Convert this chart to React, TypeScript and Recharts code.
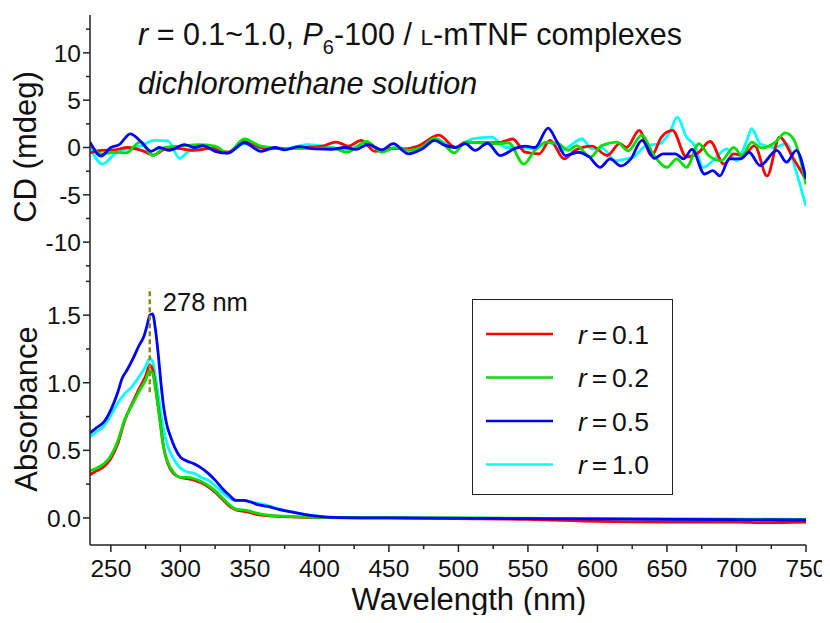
import React from "react";
import { Legend, Line, LineChart, ReferenceLine, XAxis, YAxis } from "recharts";

type Pt = [number, number];

const FONT = '"Liberation Sans", Arial, Helvetica, sans-serif';
const AXIS = "#222";
const INK = "#111";

// axes
const waveDomain: [number, number] = [235, 750];
const waveTicks = [250, 275, 300, 325, 350, 375, 400, 425, 450, 475, 500, 525, 550, 575, 600, 625, 650, 675, 700, 725, 750];
const waveMajor = [250, 300, 350, 400, 450, 500, 550, 600, 650, 700, 750];
const cdDomain: [number, number] = [-14, 14];
const cdTicks = [-12.5, -10, -7.5, -5, -2.5, 0, 2.5, 5, 7.5, 10, 12.5];
const cdMajor = [-10, -5, 0, 5, 10];
const absDomain: [number, number] = [-0.2, 1.76];
const absTicks = [0, 0.25, 0.5, 0.75, 1, 1.25, 1.5, 1.75];
const absMajor = [0, 0.5, 1, 1.5];

// series
const ratios = ["0.1", "0.2", "0.5", "1.0"];
const colors = ["#ff0000", "#00e000", "#0000ff", "#00ffff"];
const drawOrder = [3, 0, 1, 2];
const peakNm = 278;

// CD (mdeg) vs wavelength
const cdR01: Pt[] = [
  [235, -0.57], [243, -0.3], [253, -0.25], [262, 0], [272, -0.3], [281, -0.8], [291, 0], [301, -0.15],
  [310, -0.3], [322, -0.1], [334, -0.5], [346, 0.65], [358, 0], [366, -0.1], [375, -0.1], [390, 0],
  [402, 0.15], [412, 0.57], [421, 0.15], [430, 0.75], [440, -0.4], [452, -0.1], [462, -0.15], [471, 0.15],
  [486, 1.3], [498, 0], [505, 0.57], [517, 0.5], [529, 0.5], [539, 0.9], [548, -0.5], [558, -0.67],
  [566, 0.75], [576, -1.2], [584, -0.3], [596, 0.15], [607, -0.85], [616, 0.4], [621, 0], [630, 1.8],
  [639, -0.85], [646, 1.1], [654, 1.8], [664, -1.0], [673, -0.5], [681, 0.65], [691, -1.75], [698, -0.67],
  [705, -0.85], [713, 0.2], [722, -3.0], [731, 1.1], [741, -1.2], [750, -3.4],
];
const cdR02: Pt[] = [
  [235, 0.4], [243, -0.67], [253, -0.5], [261, -0.57], [271, 0.57], [280, -0.85], [289, 0], [301, 0.15],
  [313, 0.3], [325, 0.15], [334, -0.6], [346, 0.9], [358, 0.15], [375, -0.1], [390, -0.1], [409, -0.05],
  [420, -0.5], [434, 0.65], [445, -0.5], [454, -0.05], [464, -0.3], [474, 0.05], [483, 1.0], [488, 0.57],
  [497, -0.57], [505, 0.57], [517, 0.5], [529, 0.4], [536, 0.5], [547, -1.75], [555, -0.3], [563, 0.57],
  [572, 0.4], [579, -0.3], [585, 0.2], [595, -1.0], [603, 0.2], [614, 0.57], [622, -0.35], [632, 1.3],
  [640, -0.67], [650, -2.1], [657, -1.2], [664, -2.1], [673, 0.4], [680, -0.85], [689, -1.4], [698, 0],
  [704, -0.85], [711, 0.57], [718, -0.05], [728, 0.57], [735, 1.55], [741, 0.9], [750, -3.9],
];
const cdR05: Pt[] = [
  [235, 0.57], [243, -0.9], [250, 0], [256, 0.3], [264, 1.45], [272, 0.57], [279, -0.4], [285, 0],
  [292, -0.3], [303, 0.3], [310, 0], [316, 0.2], [325, -0.4], [334, -0.6], [346, 0.5], [358, -0.4],
  [368, 0], [375, -0.25], [385, 0.1], [397, -0.15], [409, -0.2], [418, 0], [426, -0.2], [435, 0.3],
  [445, -0.25], [453, 0.4], [464, -0.67], [474, -0.15], [483, 0.75], [489, 0.3], [498, 0], [505, 0.4],
  [512, -0.3], [521, 0.45], [530, -0.85], [540, -0.15], [548, 0.15], [555, 0], [564.5, 2.05], [571, 0.57],
  [577, -0.85], [586, -0.5], [594, -1.0], [602, -2.1], [609, -1.2], [617, -1.95], [624, -1.2], [632, 0.75],
  [641, -1.15], [647, -0.67], [656, -0.67], [662, -1.2], [668, -0.2], [677, -2.8], [683, -2.45], [688, -3.0],
  [695, -1.2], [703, -1.2], [709, -0.5], [717, -1.9], [729, -0.3], [736, -1.55], [743, -0.3], [750, -3.3],
];
const cdR10: Pt[] = [
  [235, 0], [244, -1.75], [253, -0.67], [262, -0.15], [272, 0.2], [281, 0.75], [291, 0.7], [299.5, -1.15],
  [305, -0.5], [313, 0], [325, -0.1], [334, -0.57], [346, 0.4], [358, -0.1], [375, -0.1], [392, 0.3],
  [409, 0], [420, -0.2], [433, 0.4], [445, -0.3], [456, 0], [466, -0.3], [475, 0], [484, 0.9],
  [490, 0.5], [498, 0], [510, 0.9], [524, 1.1], [534, 0], [546, 0], [555, -0.15], [565, 0.57],
  [574, -0.3], [589, 0.9], [596, -0.15], [603, -0.05], [613, -1.4], [617, -1.3], [626, -1.0], [635, 0.2],
  [645, 0.4], [652, 1.6], [657.5, 3.2], [664, 1.1], [670, 0.2], [676, -2.1], [683, -1.4], [693, -0.15],
  [700, -1.4], [707, 0.57], [711, 2.0], [717, 0.4], [727, 0], [736, 0.4], [743, -2.6], [750, -6.2],
];

// Absorbance vs wavelength
const absR01: Pt[] = [
  [235, 0.32], [240, 0.35], [245, 0.38], [250, 0.44], [255, 0.55], [260, 0.72], [265, 0.84], [270, 0.95],
  [275, 1.05], [278, 1.13], [280, 1.1], [282, 0.98], [285, 0.75], [288, 0.52], [291, 0.4], [295, 0.33],
  [300, 0.3], [305, 0.29], [310, 0.28], [315, 0.26], [320, 0.23], [325, 0.19], [330, 0.14], [335, 0.09],
  [340, 0.06], [345, 0.05], [350, 0.04], [355, 0.025], [360, 0.02], [370, 0.012], [380, 0.008], [400, 0.002],
  [450, 0], [500, -0.005], [550, -0.01], [600, -0.025], [650, -0.03], [700, -0.03], [720, -0.035], [750, -0.03],
];
const absR02: Pt[] = [
  [235, 0.35], [240, 0.37], [245, 0.4], [250, 0.46], [255, 0.57], [260, 0.73], [265, 0.83], [270, 0.93],
  [275, 1.02], [278, 1.09], [280, 1.07], [282, 0.96], [285, 0.74], [288, 0.52], [291, 0.41], [295, 0.34],
  [300, 0.3], [305, 0.3], [310, 0.29], [315, 0.27], [320, 0.24], [325, 0.2], [330, 0.15], [335, 0.1],
  [340, 0.065], [345, 0.06], [350, 0.05], [355, 0.035], [360, 0.025], [370, 0.015], [380, 0.01], [400, 0.004],
  [450, 0.002], [500, 0], [600, -0.005], [700, -0.01], [750, -0.01],
];
const absR05: Pt[] = [
  [235, 0.63], [240, 0.67], [245, 0.71], [250, 0.8], [255, 0.93], [258, 1.03], [262, 1.1], [266, 1.18],
  [270, 1.27], [274, 1.35], [276, 1.42], [278, 1.5], [280, 1.51], [282, 1.4], [284, 1.22], [286, 1.0],
  [288, 0.82], [290, 0.7], [293, 0.6], [296, 0.52], [300, 0.45], [305, 0.42], [310, 0.4], [315, 0.37],
  [320, 0.33], [325, 0.28], [330, 0.22], [335, 0.17], [340, 0.13], [345, 0.13], [350, 0.12], [355, 0.1],
  [360, 0.09], [365, 0.08], [370, 0.065], [380, 0.045], [390, 0.025], [400, 0.012], [410, 0.005], [450, 0],
  [550, -0.005], [650, -0.01], [750, -0.015],
];
const absR10: Pt[] = [
  [235, 0.6], [240, 0.64], [245, 0.68], [250, 0.76], [255, 0.85], [260, 0.92], [265, 0.97], [270, 1.04],
  [275, 1.12], [278, 1.18], [280, 1.16], [282, 1.05], [284, 0.92], [286, 0.78], [288, 0.65], [291, 0.53],
  [295, 0.44], [300, 0.37], [305, 0.34], [310, 0.33], [315, 0.3], [320, 0.28], [325, 0.24], [330, 0.19],
  [335, 0.15], [340, 0.13], [345, 0.13], [350, 0.12], [355, 0.11], [360, 0.1], [370, 0.07], [380, 0.045],
  [390, 0.025], [400, 0.012], [410, 0.005], [450, 0], [600, -0.005], [750, -0.01],
];

const cdSets = [cdR01, cdR02, cdR05, cdR10];
const absSets = [absR01, absR02, absR05, absR10];
const rows = (pts: Pt[]) => pts.map(([nm, v]) => ({ nm, v }));

const YTick = (props: any) => {
  const { x, y, payload, majors, digits } = props;
  const major = majors.includes(payload.value);
  return (
    <g>
      <line x1={x - (major ? 7 : 4)} x2={x} y1={y} y2={y} stroke={AXIS} strokeWidth={1.5} />
      {major && (
        <text x={x - 9} y={y} dy="0.36em" textAnchor="end" fontSize={24.5} fontFamily={FONT} fill={INK}>
          {Number(payload.value).toFixed(digits)}
        </text>
      )}
    </g>
  );
};

const XTickBottom = (props: any) => {
  const { x, y, payload } = props;
  const major = waveMajor.includes(payload.value);
  return (
    <g>
      <line x1={x} x2={x} y1={y} y2={y + (major ? 7 : 4)} stroke={AXIS} strokeWidth={1.5} />
      {major && (
        <text x={x} y={y + 32} textAnchor="middle" fontSize={24.5} fontFamily={FONT} fill={INK}>
          {payload.value}
        </text>
      )}
    </g>
  );
};

const XTickTop = (props: any) => {
  const { x, y } = props;
  return <line x1={x} x2={x} y1={y - 6} y2={y} stroke={AXIS} strokeWidth={1.5} />;
};

const LegendBox = () => (
  <div style={{ width: 201, height: 196, border: "1.5px solid #222", boxSizing: "border-box", background: "#fff" }}>
    <svg width={198} height={193} style={{ display: "block" }}>
      {ratios.map((r, i) => (
        <g key={r}>
          <line x1={13} x2={80} y1={34 + i * 43.5} y2={34 + i * 43.5} stroke={colors[i]} strokeWidth={2.6} />
          <text
            x={105}
            y={34 + i * 43.5}
            dy="0.36em"
            fontSize={26.5}
            wordSpacing={-2.5}
            fontFamily={FONT}
            fill={INK}
          >
            <tspan fontStyle="italic">r</tspan> = {r}
          </text>
        </g>
      ))}
    </svg>
  </div>
);

const App: React.FC = () => (
  <div style={{ position: "relative", width: 830, height: 623, margin: -8, background: "#fff", fontFamily: FONT }}>
    <div style={{ position: "absolute", left: 0, top: 0 }}>
      <LineChart width={830} height={280} margin={{ top: 15, right: 24, bottom: 0, left: 30 }}>
        <XAxis
          dataKey="nm"
          type="number"
          domain={waveDomain}
          allowDataOverflow
          ticks={waveMajor}
          interval={0}
          height={0}
          tickSize={0}
          tickMargin={0}
          tickLine={false}
          tick={<XTickTop />}
          axisLine={{ stroke: AXIS, strokeWidth: 2 }}
        />
        <YAxis
          type="number"
          domain={cdDomain}
          allowDataOverflow
          ticks={cdTicks}
          interval={0}
          width={60}
          tickSize={0}
          tickMargin={0}
          tickLine={false}
          tick={<YTick majors={cdMajor} digits={0} />}
          axisLine={{ stroke: AXIS, strokeWidth: 1.5 }}
          label={() => (
            <text x={36} y={147} transform="rotate(-90 36 147)" textAnchor="middle" fontSize={31} fontFamily={FONT} fill={INK}>
              CD (mdeg)
            </text>
          )}
        />
        {drawOrder.map((i) => (
          <Line
            key={ratios[i]}
            data={rows(cdSets[i])}
            dataKey="v"
            name={`r = ${ratios[i]}`}
            type="monotone"
            stroke={colors[i]}
            strokeWidth={2.8}
            dot={false}
            isAnimationActive={false}
          />
        ))}
      </LineChart>
    </div>

    <div style={{ position: "absolute", left: 0, top: 270 }}>
      <LineChart width={830} height={353} margin={{ top: 10, right: 24, bottom: 0, left: 30 }}>
        <XAxis
          dataKey="nm"
          type="number"
          domain={waveDomain}
          allowDataOverflow
          ticks={waveTicks}
          interval={0}
          height={78}
          tickSize={0}
          tickMargin={0}
          tickLine={false}
          tick={<XTickBottom />}
          axisLine={{ stroke: AXIS, strokeWidth: 1.5 }}
          label={() => (
            <text x={469} y={340} textAnchor="middle" fontSize={31} fontFamily={FONT} fill={INK}>
              Wavelength (nm)
            </text>
          )}
        />
        <YAxis
          type="number"
          domain={absDomain}
          allowDataOverflow
          ticks={absTicks}
          interval={0}
          width={60}
          tickSize={0}
          tickMargin={0}
          tickLine={false}
          tick={<YTick majors={absMajor} digits={1} />}
          axisLine={{ stroke: AXIS, strokeWidth: 1.5 }}
          label={() => (
            <text x={37} y={139} transform="rotate(-90 37 139)" textAnchor="middle" fontSize={31} fontFamily={FONT} fill={INK}>
              Absorbance
            </text>
          )}
        />
        {drawOrder.map((i) => (
          <Line
            key={ratios[i]}
            data={rows(absSets[i])}
            dataKey="v"
            name={`r = ${ratios[i]}`}
            type="monotone"
            stroke={colors[i]}
            strokeWidth={2.8}
            dot={false}
            isAnimationActive={false}
          />
        ))}
        <ReferenceLine
          segment={[{ x: peakNm, y: 0.93 }, { x: peakNm, y: 1.7 }]}
          stroke="#8c8c14"
          strokeWidth={2.5}
          strokeDasharray="5 3"
          label={(p: any) => (
            <text x={p.viewBox.x + 13} y={p.viewBox.y + 23} fontSize={25.5} fontFamily={FONT} fill={INK}>
              {peakNm} nm
            </text>
          )}
        />
        <Legend
          layout="vertical"
          align="center"
          verticalAlign="middle"
          wrapperStyle={{ left: 472, top: 29, width: 201, height: 196 }}
          content={() => <LegendBox />}
        />
      </LineChart>
    </div>

    <div
      style={{
        position: "absolute",
        left: 138,
        top: 12,
        fontSize: 30.5,
        lineHeight: "45px",
        color: INK,
        whiteSpace: "nowrap",
      }}
    >
      <div>
        <i>r</i> = 0.1~1.0, <i>P</i>
        <span style={{ fontSize: 20, position: "relative", top: 9 }}>6</span>-100 /{" "}
        <span style={{ fontSize: 22.5 }}>L</span>-mTNF complexes
      </div>
      <div>
        <i>dichloromethane solution</i>
      </div>
    </div>
  </div>
);

export default App;
